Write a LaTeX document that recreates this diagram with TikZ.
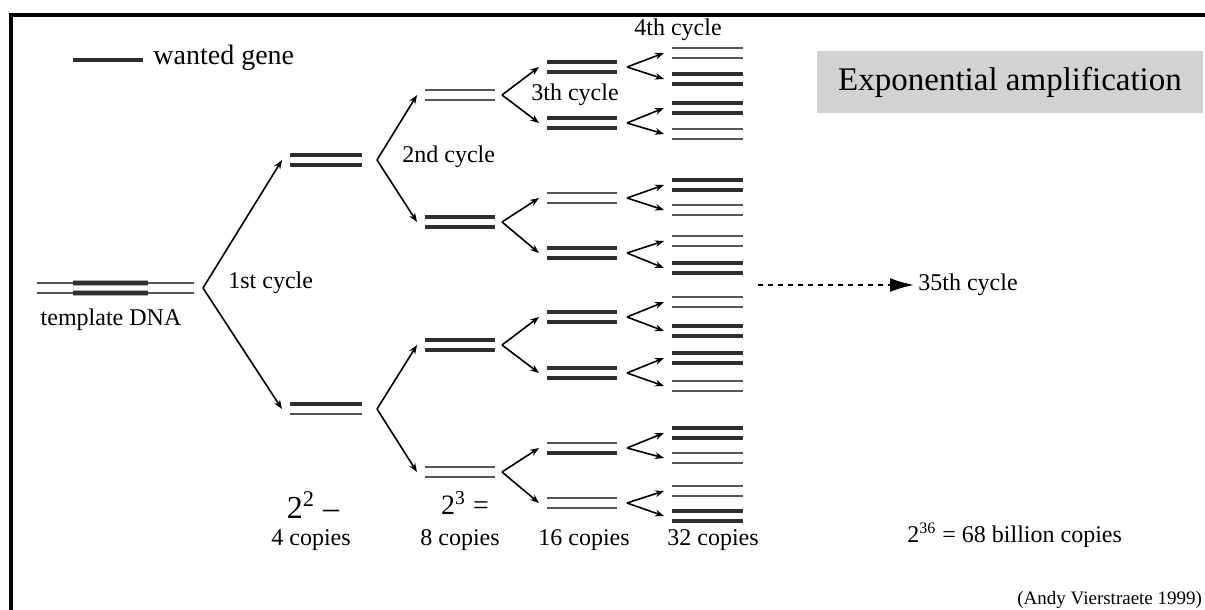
\documentclass[tikz,border=0pt]{standalone}
\usepackage{fontspec}
\setmainfont{Liberation Serif}
\usetikzlibrary{arrows.meta}
\definecolor{dk}{HTML}{2E2E2E}
\definecolor{md}{HTML}{555555}
\definecolor{boxgray}{HTML}{D2D2D2}
\tikzset{
  thk/.style={line width=2pt,draw=dk},
  thn/.style={line width=1.2pt,draw=md},
  arr/.style={line width=0.8pt,draw=black,-{Stealth[length=4.5pt,width=3.4pt]}},
  lbl/.style={inner sep=0pt,font=\fontsize{12}{14}\selectfont},
  frame/.style={line width=2.2pt,draw=black}
}
\newcommand{\molec}[6]{%
  \coordinate (#1-w) at (#2,#4);
  \coordinate (#1-e) at (#3,#4);
  \draw[#5] (#2,{#4-5}) -- (#3,{#4-5});
  \draw[#6] (#2,{#4+5}) -- (#3,{#4+5});
}
\newcommand{\mone}[4]{\molec{#1}{290}{362}{#2}{#3}{#4}}
\newcommand{\mtwo}[4]{\molec{#1}{425}{495}{#2}{#3}{#4}}
\newcommand{\mthree}[4]{\molec{#1}{547}{617}{#2}{#3}{#4}}
\newcommand{\mfour}[4]{\molec{#1}{672}{743}{#2}{#3}{#4}}
\newcommand{\brnch}[4]{% parent, child1, child2, xshift(px)
  \coordinate (b-#1) at ([xshift=#4*0.5pt]#1-e);
  \draw[arr] (b-#1) -- ([xshift=-4pt]#2-w);
  \draw[arr] (b-#1) -- ([xshift=-4pt]#3-w);
}
\begin{document}
\begin{tikzpicture}[x=0.5pt,y=-0.5pt]
\fill[white] (0,0) rectangle (1205,610);
\useasboundingbox (0,0) rectangle (1205,610);
% frame
\draw[frame] (11,610) -- (11,15) -- (1205,15);
% legend
\coordinate (lg1) at (73,60);
\node[inner sep=0pt,anchor=west,font=\fontsize{14}{16}\selectfont] (lgt) at (153,58) {wanted gene};
\draw[thk] (lg1) -- ([xshift=-5pt]lg1 -| lgt.west);
% title box
\node[fill=boxgray,minimum width=193pt,minimum height=31pt,inner sep=0pt,font=\fontsize{16.5}{18}\selectfont] (title) at (1010,82) {Exponential amplification};
% template DNA
\coordinate (t-w) at (37,288);
\coordinate (t-e) at (194,288);
\draw[thn] (37,283) -- (194,283);
\draw[thn] (37,293) -- (194,293);
\draw[line width=3pt,draw=gray!60] (73,283) -- (148,283);
\draw[line width=3pt,draw=gray!60] (73,293) -- (148,293);
\draw[line width=1.6pt,draw=dk] (73,283) -- (148,283);
\draw[line width=1.6pt,draw=dk] (73,293) -- (148,293);
\node[lbl,anchor=north] (tlab) at (111,308) {template DNA};
% cycle 1
\mone{c1a}{160}{thk}{thk}
\mone{c1b}{409}{thk}{thn}
% cycle 2
\mtwo{c2a}{95}{thn}{thn}
\mtwo{c2b}{222}{thk}{thk}
\mtwo{c2c}{345}{thk}{thk}
\mtwo{c2d}{472}{thn}{thn}
% cycle 3
\mthree{c3a}{67}{thk}{thk}
\mthree{c3b}{123}{thk}{thk}
\mthree{c3c}{198}{thn}{thn}
\mthree{c3d}{253}{thk}{thk}
\mthree{c3e}{317}{thk}{thk}
\mthree{c3f}{373}{thk}{thk}
\mthree{c3g}{448}{thn}{thk}
\mthree{c3h}{503}{thn}{thn}
% cycle 4
\mfour{d1}{53}{thn}{thn}
\mfour{d2}{79}{thk}{thk}
\mfour{d3}{108}{thk}{thk}
\mfour{d4}{134}{thn}{thn}
\mfour{d5}{185}{thk}{thk}
\mfour{d6}{210}{thn}{thn}
\mfour{d7}{241}{thn}{thn}
\mfour{d8}{268}{thk}{thk}
\mfour{d9}{302}{thn}{thn}
\mfour{d10}{331}{thk}{thk}
\mfour{d11}{358}{thk}{thk}
\mfour{d12}{386}{thn}{thn}
\mfour{d13}{433}{thk}{thk}
\mfour{d14}{458}{thn}{thn}
\mfour{d15}{491}{thn}{thn}
\mfour{d16}{516}{thk}{thk}
% branches
\brnch{t}{c1a}{c1b}{9}
\brnch{c1a}{c2a}{c2b}{15}
\brnch{c1b}{c2c}{c2d}{15}
\brnch{c2a}{c3a}{c3b}{7}
\brnch{c2b}{c3c}{c3d}{7}
\brnch{c2c}{c3e}{c3f}{7}
\brnch{c2d}{c3g}{c3h}{7}
\brnch{c3a}{d1}{d2}{10}
\brnch{c3b}{d3}{d4}{10}
\brnch{c3c}{d5}{d6}{10}
\brnch{c3d}{d7}{d8}{10}
\brnch{c3e}{d9}{d10}{10}
\brnch{c3f}{d11}{d12}{10}
\brnch{c3g}{d13}{d14}{10}
\brnch{c3h}{d15}{d16}{10}
% cycle labels
\node[lbl,anchor=west] (l1) at (228,283) {1st cycle};
\node[lbl,anchor=west] (l2) at (402,157) {2nd cycle};
\node[lbl,anchor=west] (l3) at (531,95) {3th cycle};
\node[lbl,anchor=west] (l4) at (634,30) {4th cycle};
% 35th cycle
\coordinate (ds) at (758,285);
\node[lbl,anchor=west] (l35) at (918,285) {35th cycle};
\draw[line width=0.9pt,dash pattern=on 2.5pt off 2.5pt,-{Latex[length=12pt,width=7pt]}] (ds) -- ([xshift=-2pt]l35.west);
% counts
\node[inner sep=0pt,font=\fontsize{16}{18}\selectfont] (p2) at (313,505) {2\textsuperscript{2} –};
\node[lbl] (n4) at (311,540) {4 copies};
\node[inner sep=0pt,font=\fontsize{14}{16}\selectfont] (p3) at (465,503) {2\textsuperscript{3} =};
\node[lbl] (n8) at (460,540) {8 copies};
\node[lbl] (n16) at (584,540) {16 copies};
\node[lbl] (n32) at (713,540) {32 copies};
\node[lbl,anchor=west] (n36) at (907,535) {2\textsuperscript{36} = 68 billion copies};
\node[inner sep=0pt,anchor=west,font=\fontsize{9.5}{11}\selectfont] (cred) at (1017,600) {(Andy Vierstraete 1999)};
\end{tikzpicture}
\end{document}
